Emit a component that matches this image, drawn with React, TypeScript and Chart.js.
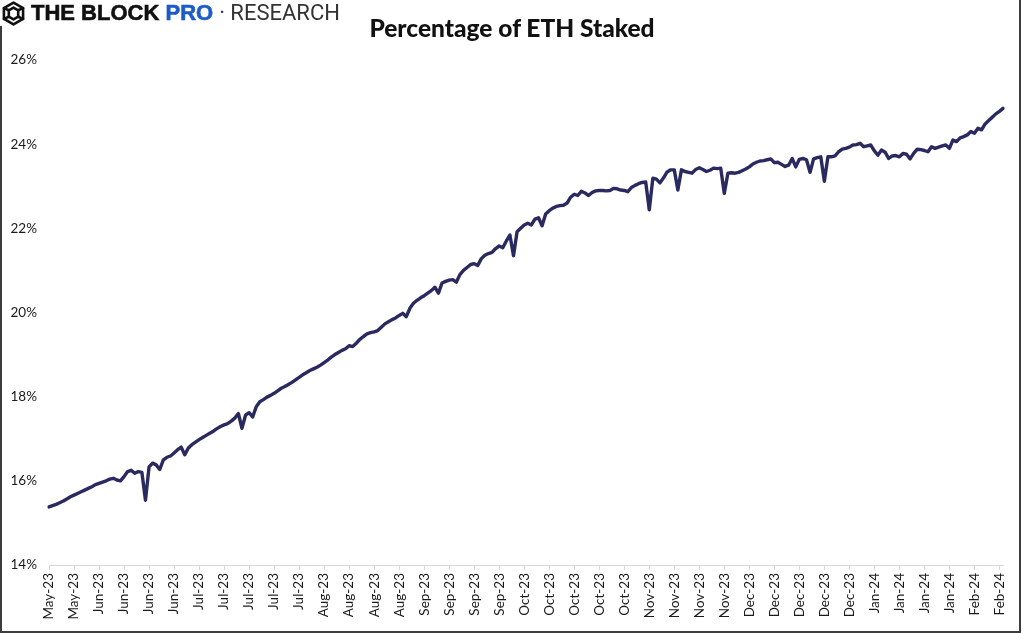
import React, { useEffect, useRef } from "react";
import { Chart, registerables } from "chart.js";

Chart.register(...registerables);

// Daily share of ETH supply staked (%), starting 2023-05-21
const startDate = "2023-05-21";

const stakedPct: number[] = [
  15.38, 15.41, 15.44, 15.48, 15.52, 15.57, 15.62,
  15.66, 15.70, 15.74, 15.78, 15.82, 15.86, 15.91,
  15.94, 15.97, 16.00, 16.04, 16.06, 16.02, 16.00,
  16.10, 16.22, 16.25, 16.18, 16.22, 16.20, 15.54,
  16.33, 16.42, 16.38, 16.27, 16.50, 16.56, 16.59,
  16.66, 16.74, 16.80, 16.62, 16.78, 16.86, 16.92,
  16.98, 17.03, 17.08, 17.13, 17.18, 17.24, 17.29,
  17.33, 17.36, 17.42, 17.49, 17.60, 17.25, 17.56,
  17.62, 17.52, 17.76, 17.88, 17.93, 17.99, 18.03,
  18.08, 18.14, 18.20, 18.24, 18.29, 18.34, 18.40,
  18.46, 18.52, 18.57, 18.62, 18.66, 18.70, 18.75,
  18.81, 18.87, 18.94, 19.00, 19.05, 19.10, 19.14,
  19.21, 19.19, 19.27, 19.36, 19.43, 19.49, 19.52,
  19.54, 19.57, 19.65, 19.73, 19.78, 19.83, 19.87,
  19.93, 19.98, 19.90, 20.10, 20.22, 20.29, 20.35,
  20.40, 20.46, 20.52, 20.60, 20.46, 20.70, 20.74,
  20.77, 20.78, 20.72, 20.90, 21.00, 21.07, 21.14,
  21.16, 21.12, 21.28, 21.36, 21.40, 21.43, 21.52,
  21.58, 21.54, 21.70, 21.84, 21.35, 21.92, 22.00,
  22.08, 22.12, 22.08, 22.22, 22.25, 22.06, 22.34,
  22.42, 22.48, 22.52, 22.54, 22.55, 22.60, 22.74,
  22.81, 22.78, 22.88, 22.84, 22.78, 22.85, 22.89,
  22.90, 22.90, 22.89, 22.90, 22.95, 22.94, 22.91,
  22.90, 22.87, 22.97, 23.02, 23.06, 23.09, 23.10,
  22.44, 23.19, 23.17, 23.08, 23.20, 23.34, 23.39,
  23.39, 22.91, 23.39, 23.35, 23.33, 23.31, 23.40,
  23.44, 23.40, 23.35, 23.38, 23.43, 23.42, 23.43,
  22.83, 23.31, 23.32, 23.31, 23.33, 23.37, 23.41,
  23.46, 23.53, 23.57, 23.60, 23.61, 23.63, 23.65,
  23.56, 23.57, 23.52, 23.47, 23.50, 23.66, 23.46,
  23.64, 23.66, 23.63, 23.33, 23.65, 23.68, 23.70,
  23.12, 23.70, 23.70, 23.72, 23.82, 23.88, 23.90,
  23.93, 23.98, 23.99, 24.02, 23.94, 23.96, 23.98,
  23.84, 23.74, 23.86, 23.81, 23.66, 23.72, 23.73,
  23.70, 23.78, 23.76, 23.65, 23.78, 23.88, 23.87,
  23.85, 23.82, 23.94, 23.90, 23.93, 23.96, 23.98,
  23.90, 24.10, 24.06, 24.15, 24.18, 24.22, 24.30,
  24.26, 24.38, 24.34, 24.48, 24.56, 24.64, 24.72,
  24.78, 24.85,
];

// Weekly tick labels (one every 7 days)
const tickLabels: string[] = [
  "May-23", "May-23",
  "Jun-23", "Jun-23", "Jun-23", "Jun-23",
  "Jul-23", "Jul-23", "Jul-23", "Jul-23", "Jul-23",
  "Aug-23", "Aug-23", "Aug-23", "Aug-23",
  "Sep-23", "Sep-23", "Sep-23", "Sep-23",
  "Oct-23", "Oct-23", "Oct-23", "Oct-23", "Oct-23",
  "Nov-23", "Nov-23", "Nov-23", "Nov-23",
  "Dec-23", "Dec-23", "Dec-23", "Dec-23", "Dec-23",
  "Jan-24", "Jan-24", "Jan-24", "Jan-24",
  "Feb-24", "Feb-24",
];

const yTicks = { min: 14, max: 26, step: 2 };
const tickEvery = 7;

const dayLabels: string[] = stakedPct.map((_, i) => {
  const d = new Date(startDate + "T00:00:00Z");
  d.setUTCDate(d.getUTCDate() + i);
  return d.toISOString().slice(0, 10);
});

const LINE_COLOR = "#2a2a60";
const AXIS_COLOR = "#d6d6d6";

function LogoIcon() {
  return (
    <svg width="25" height="25" viewBox="0 0 24 24" style={{ display: "block" }}>
      <g fill="none" stroke="#111" strokeWidth="2.5" strokeLinejoin="round" strokeLinecap="round">
        <path d="M12 1.6 L21.2 6.8 L21.2 17.2 L12 22.4 L2.8 17.2 L2.8 6.8 Z" />
        <path d="M12 6.3 L16.5 8.9 L16.5 15.1 L12 17.7 L7.5 15.1 L7.5 8.9 Z" />
        <path d="M2.8 6.8 L7.5 8.9 M21.2 6.8 L16.5 8.9 M2.8 17.2 L7.5 15.1 M21.2 17.2 L16.5 15.1" />
      </g>
    </svg>
  );
}

export default function App() {
  const canvasRef = useRef<HTMLCanvasElement | null>(null);

  useEffect(() => {
    if (!canvasRef.current) return;
    const chart = new Chart(canvasRef.current, {
      type: "line",
      data: {
        labels: dayLabels,
        datasets: [
          {
            data: stakedPct,
            borderColor: LINE_COLOR,
            borderWidth: 3.4,
            pointRadius: 0,
            tension: 0,
            borderJoinStyle: "round",
            borderCapStyle: "round",
            fill: false,
          },
        ],
      },
      options: {
        animation: false,
        responsive: false,
        maintainAspectRatio: false,
        layout: { padding: { top: 60, bottom: 8, left: 4, right: 21 } },
        plugins: {
          legend: { display: false },
          title: { display: false },
          tooltip: { enabled: false },
        },
        scales: {
          x: {
            type: "category",
            offset: false,
            afterFit: (scale: any) => {
              scale.height = 60;
            },
            grid: {
              drawOnChartArea: false,
              drawTicks: true,
              tickLength: 5,
              color: (ctx: any) => (ctx.index % tickEvery === 0 ? AXIS_COLOR : "rgba(0,0,0,0)"),
              tickColor: (ctx: any) => (ctx.index % tickEvery === 0 ? AXIS_COLOR : "rgba(0,0,0,0)"),
            },
            border: { display: true, color: AXIS_COLOR, width: 1 },
            ticks: {
              autoSkip: false,
              minRotation: 90,
              maxRotation: 90,
              padding: 3,
              color: "#1a1a1a",
              font: { family: "Lato", size: 13.5 },
              callback: (_v: any, i: number) =>
                i % tickEvery === 0 ? tickLabels[i / tickEvery] ?? "" : "",
            },
          },
          y: {
            min: yTicks.min,
            max: yTicks.max,
            afterFit: (scale: any) => {
              scale.width = 45;
            },
            grid: { display: false, drawTicks: false },
            border: { display: false },
            ticks: {
              stepSize: yTicks.step,
              padding: 12,
              color: "#1a1a1a",
              font: { family: "Lato", size: 13.5 },
              callback: (v: any) => `${v}%`,
            },
          },
        },
      },
    });
    return () => chart.destroy();
  }, []);

  return (
    <div
      style={{
        position: "fixed",
        left: 0,
        top: 0,
        width: 1024,
        height: 633,
        background: "#fff",
        overflow: "hidden",
      }}
    >
      <canvas
        ref={canvasRef}
        width={1024}
        height={633}
        style={{ position: "absolute", left: 0, top: 0, width: 1024, height: 633 }}
      />
      <div
        style={{
          position: "absolute",
          left: 0,
          top: -4,
          width: 1017,
          height: 633,
          border: "2px solid #3c3c3c",
          pointerEvents: "none",
        }}
      />
      <div
        style={{
          position: "absolute",
          left: 0,
          top: 0,
          height: 26,
          paddingLeft: 1,
          paddingRight: 6,
          background: "#fff",
          display: "flex",
          alignItems: "center",
          whiteSpace: "nowrap",
        }}
      >
        <LogoIcon />
        <span
          style={{
            marginLeft: 5,
            fontFamily: "'Liberation Sans', Arial, sans-serif",
            fontWeight: 700,
            fontSize: 22,
            color: "#111",
            lineHeight: "26px",
            WebkitTextStroke: "0.6px #111",
          }}
        >
          THE BLOCK{" "}
          <span style={{ color: "#1c5bc8", WebkitTextStroke: "0.6px #1c5bc8" }}>PRO</span>
        </span>
        <span
          style={{
            fontFamily: "Roboto, sans-serif",
            fontSize: 22,
            color: "#333",
            marginLeft: 6,
            lineHeight: "26px",
          }}
        >
          · RESEARCH
        </span>
      </div>
      <div
        style={{
          position: "absolute",
          left: 0,
          top: 13,
          width: 1024,
          textAlign: "center",
          fontFamily: "Lato, sans-serif",
          fontWeight: 900,
          fontSize: 24.5,
          lineHeight: "30px",
          color: "#111",
        }}
      >
        Percentage of ETH Staked
      </div>
    </div>
  );
}
